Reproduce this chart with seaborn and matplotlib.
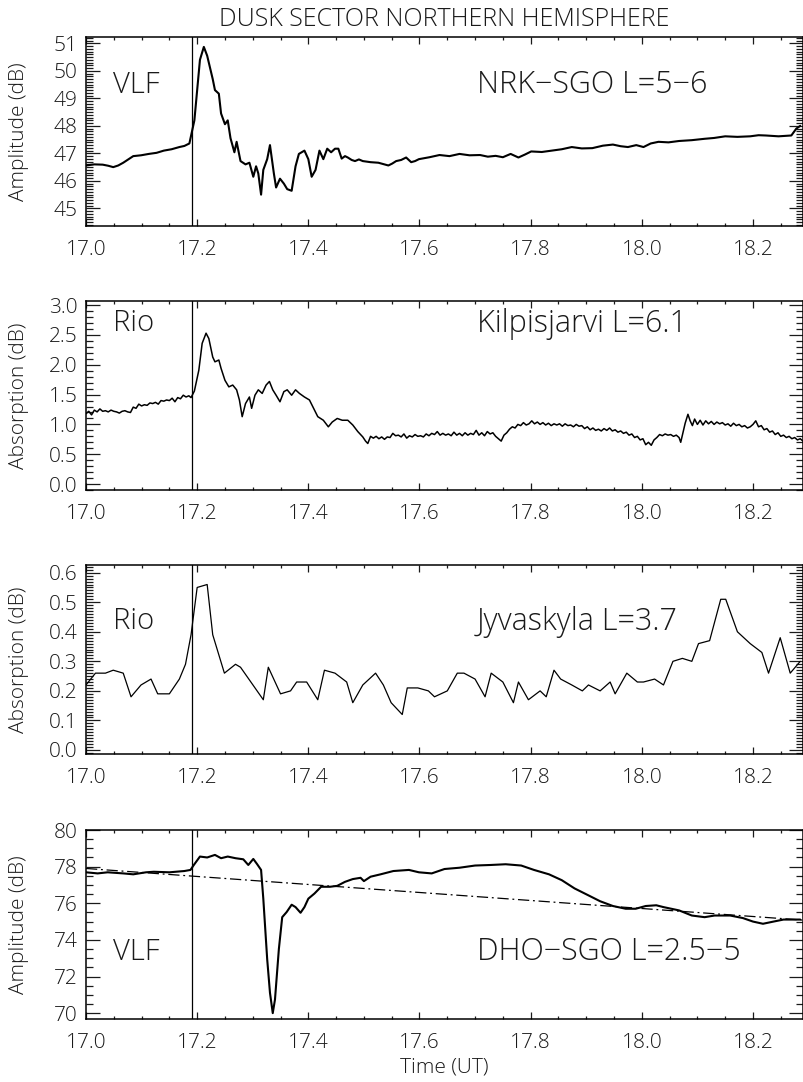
import numpy as np
import pandas as pd
import matplotlib
matplotlib.use("Agg")
import matplotlib.pyplot as plt
import seaborn as sns
from matplotlib.ticker import MultipleLocator, FormatStrFormatter

# VLF amplitude NRK-SGO (dB)
nrk_t = [17.000, 17.015, 17.030, 17.040, 17.049, 17.058, 17.067, 17.076, 17.085, 17.099,
         17.113, 17.127, 17.140, 17.154, 17.168, 17.177, 17.186, 17.195,
         17.205, 17.212, 17.218, 17.228, 17.232, 17.239, 17.243, 17.250, 17.255, 17.260,
         17.267, 17.271, 17.278, 17.287, 17.294, 17.301, 17.306, 17.310, 17.315, 17.319,
         17.326, 17.331, 17.338, 17.342, 17.349, 17.356, 17.362, 17.370, 17.377, 17.383,
         17.393, 17.400, 17.406, 17.413, 17.420, 17.427, 17.434, 17.441, 17.448, 17.454,
         17.460, 17.466, 17.471, 17.478, 17.484, 17.491, 17.498, 17.512, 17.526, 17.535,
         17.544, 17.551, 17.558, 17.567, 17.576, 17.585, 17.592, 17.599, 17.618, 17.636,
         17.654, 17.672, 17.690, 17.709, 17.723, 17.737, 17.750, 17.764, 17.778, 17.790,
         17.801, 17.820, 17.838, 17.856, 17.874, 17.892, 17.911, 17.930, 17.948, 17.962,
         17.975, 17.990, 18.003, 18.016, 18.030, 18.048, 18.067, 18.090, 18.113, 18.130,
         18.150, 18.172, 18.195, 18.210, 18.223, 18.246, 18.269, 18.278, 18.285]
nrk_db = [46.56, 46.60, 46.59, 46.55, 46.50, 46.56, 46.66, 46.78, 46.90, 46.93,
          46.98, 47.02, 47.10, 47.15, 47.23, 47.27, 47.36, 48.20,
          50.40, 50.87, 50.55, 49.70, 49.30, 49.17, 48.45, 48.06, 48.20, 47.55,
          47.04, 47.42, 46.72, 46.60, 46.66, 46.15, 46.53, 46.27, 45.50, 46.40,
          46.79, 47.30, 46.27, 45.76, 46.08, 45.90, 45.70, 45.64, 46.53, 46.98,
          47.10, 46.79, 46.15, 46.40, 47.10, 46.79, 47.17, 47.04, 47.17, 47.17,
          46.81, 46.90, 46.85, 46.76, 46.72, 46.78, 46.72, 46.68, 46.66, 46.61,
          46.56, 46.63, 46.72, 46.76, 46.85, 46.68, 46.72, 46.79, 46.86, 46.94,
          46.90, 46.98, 46.93, 46.94, 46.88, 46.91, 46.86, 46.98, 46.85, 46.96,
          47.07, 47.05, 47.10, 47.15, 47.23, 47.18, 47.19, 47.28, 47.32, 47.26,
          47.23, 47.30, 47.23, 47.36, 47.42, 47.40, 47.45, 47.48, 47.53, 47.56,
          47.62, 47.60, 47.62, 47.66, 47.65, 47.62, 47.65, 47.90, 48.00]

# Riometer absorption Kilpisjarvi (dB)
kil_t = [17.000, 17.005, 17.010, 17.015, 17.020, 17.025, 17.030, 17.035, 17.040, 17.045,
         17.050, 17.055, 17.060, 17.065, 17.070, 17.075, 17.080, 17.085, 17.090, 17.095,
         17.100, 17.105, 17.110, 17.115, 17.120, 17.125, 17.130, 17.135, 17.140, 17.145,
         17.150, 17.155, 17.160, 17.165, 17.170, 17.175, 17.180, 17.185, 17.189, 17.195,
         17.203, 17.209, 17.216, 17.221, 17.228, 17.232, 17.239, 17.243, 17.250, 17.257,
         17.264, 17.271, 17.276, 17.281, 17.287, 17.294, 17.298, 17.304, 17.310, 17.317,
         17.324, 17.330, 17.336, 17.342, 17.349, 17.356, 17.362, 17.370, 17.377, 17.384,
         17.393, 17.402, 17.411, 17.417, 17.427, 17.436, 17.443, 17.452, 17.461, 17.471,
         17.480, 17.489, 17.498, 17.503, 17.507, 17.512, 17.517, 17.522, 17.527, 17.532,
         17.537, 17.542, 17.547, 17.552, 17.557, 17.562, 17.567, 17.572, 17.577, 17.582,
         17.587, 17.592, 17.597, 17.602, 17.607, 17.612, 17.617, 17.622, 17.627, 17.632,
         17.637, 17.642, 17.647, 17.652, 17.657, 17.662, 17.667, 17.672, 17.677, 17.682,
         17.687, 17.692, 17.697, 17.702, 17.707, 17.712, 17.717, 17.722, 17.727, 17.732,
         17.737, 17.742, 17.747, 17.752, 17.757, 17.762, 17.767, 17.772, 17.777, 17.782,
         17.787, 17.792, 17.797, 17.802, 17.807, 17.812, 17.817, 17.822, 17.827, 17.832,
         17.837, 17.842, 17.847, 17.852, 17.857, 17.862, 17.867, 17.872, 17.877, 17.882,
         17.887, 17.892, 17.897, 17.902, 17.907, 17.912, 17.917, 17.922, 17.927, 17.932,
         17.937, 17.942, 17.947, 17.952, 17.957, 17.962, 17.967, 17.972, 17.977, 17.982,
         17.987, 17.992, 17.997, 18.002, 18.007, 18.012, 18.017, 18.022, 18.027, 18.032,
         18.037, 18.042, 18.047, 18.052, 18.057, 18.062, 18.067, 18.070, 18.074, 18.078,
         18.083, 18.087, 18.091, 18.095, 18.100, 18.105, 18.110, 18.115, 18.120, 18.125,
         18.130, 18.135, 18.140, 18.145, 18.150, 18.155, 18.160, 18.165, 18.170, 18.175,
         18.180, 18.185, 18.190, 18.195, 18.200, 18.205, 18.210, 18.215, 18.220, 18.225,
         18.230, 18.235, 18.240, 18.245, 18.250, 18.255, 18.260, 18.265, 18.270, 18.275,
         18.280, 18.285, 18.290]
kil_db = [1.18, 1.22, 1.16, 1.24, 1.21, 1.26, 1.22, 1.23, 1.21, 1.24,
          1.22, 1.21, 1.19, 1.22, 1.23, 1.21, 1.20, 1.29, 1.27, 1.34,
          1.31, 1.33, 1.32, 1.36, 1.35, 1.37, 1.34, 1.40, 1.39, 1.41,
          1.40, 1.44, 1.38, 1.45, 1.43, 1.49, 1.46, 1.48, 1.45, 1.56,
          1.91, 2.36, 2.53, 2.44, 2.13, 2.05, 2.08, 1.94, 1.74, 1.63,
          1.66, 1.58, 1.41, 1.13, 1.35, 1.46, 1.27, 1.49, 1.58, 1.52,
          1.66, 1.72, 1.58, 1.49, 1.38, 1.55, 1.58, 1.49, 1.58, 1.52,
          1.46, 1.41, 1.24, 1.13, 1.07, 0.96, 1.04, 1.10, 1.07, 1.07,
          0.99, 0.88, 0.79, 0.72, 0.68, 0.80, 0.77, 0.80, 0.76, 0.79,
          0.75, 0.79, 0.78, 0.85, 0.81, 0.82, 0.79, 0.84, 0.77, 0.81,
          0.79, 0.83, 0.80, 0.81, 0.79, 0.84, 0.81, 0.85, 0.83, 0.88,
          0.82, 0.85, 0.82, 0.84, 0.81, 0.87, 0.82, 0.85, 0.81, 0.86,
          0.82, 0.85, 0.83, 0.90, 0.82, 0.86, 0.81, 0.88, 0.84, 0.86,
          0.80, 0.76, 0.72, 0.82, 0.86, 0.92, 0.96, 0.94, 1.00, 0.98,
          1.03, 0.99, 1.01, 1.06, 1.01, 1.04, 1.00, 1.03, 0.99, 1.02,
          0.98, 1.01, 0.99, 1.01, 0.97, 1.01, 0.98, 0.99, 0.96, 1.00,
          0.97, 0.98, 0.93, 0.96, 0.91, 0.94, 0.90, 0.92, 0.89, 0.93,
          0.90, 0.94, 0.89, 0.91, 0.87, 0.89, 0.85, 0.87, 0.82, 0.84,
          0.78, 0.80, 0.74, 0.76, 0.66, 0.70, 0.65, 0.74, 0.78, 0.83,
          0.81, 0.84, 0.82, 0.83, 0.80, 0.82, 0.78, 0.70, 0.86, 1.02,
          1.17, 1.06, 0.98, 1.09, 1.00, 1.07, 0.99, 1.06, 1.01, 1.05,
          1.00, 1.04, 1.01, 1.03, 0.99, 1.01, 0.97, 1.02, 0.98, 1.00,
          0.96, 0.98, 0.94, 0.96, 1.00, 1.06, 0.96, 0.98, 0.91, 0.93,
          0.87, 0.89, 0.83, 0.86, 0.80, 0.82, 0.78, 0.80, 0.76, 0.78,
          0.74, 0.76, 0.72]

# Riometer absorption Jyvaskyla (dB)
jyv_t = [17.000, 17.017, 17.035, 17.049, 17.067, 17.081, 17.099, 17.117, 17.129, 17.150,
         17.168, 17.179, 17.189, 17.200, 17.218, 17.228, 17.249, 17.269, 17.278, 17.319,
         17.328, 17.350, 17.368, 17.379, 17.397, 17.417, 17.429, 17.448, 17.469, 17.480,
         17.498, 17.521, 17.535, 17.549, 17.569, 17.578, 17.597, 17.616, 17.627, 17.650,
         17.668, 17.680, 17.700, 17.718, 17.729, 17.750, 17.769, 17.778, 17.796, 17.817,
         17.828, 17.842, 17.854, 17.874, 17.893, 17.904, 17.925, 17.943, 17.952, 17.973,
         17.992, 18.003, 18.023, 18.039, 18.056, 18.073, 18.090, 18.102, 18.122, 18.142,
         18.151, 18.172, 18.195, 18.216, 18.228, 18.249, 18.267, 18.285]
jyv_db = [0.22, 0.26, 0.26, 0.27, 0.26, 0.18, 0.22, 0.24, 0.19, 0.19,
          0.24, 0.29, 0.39, 0.55, 0.56, 0.39, 0.26, 0.29, 0.28, 0.17,
          0.28, 0.19, 0.20, 0.23, 0.23, 0.17, 0.27, 0.26, 0.23, 0.16,
          0.22, 0.26, 0.22, 0.16, 0.12, 0.21, 0.21, 0.20, 0.18, 0.20,
          0.26, 0.26, 0.24, 0.18, 0.26, 0.23, 0.16, 0.23, 0.17, 0.20,
          0.18, 0.27, 0.24, 0.22, 0.20, 0.22, 0.20, 0.23, 0.19, 0.26,
          0.23, 0.23, 0.24, 0.22, 0.30, 0.31, 0.30, 0.36, 0.37, 0.51,
          0.51, 0.40, 0.36, 0.33, 0.26, 0.38, 0.26, 0.30]

# VLF amplitude DHO-SGO (dB)
dho_t = [17.000, 17.021, 17.039, 17.067, 17.085, 17.108, 17.122, 17.150, 17.177, 17.188,
         17.194, 17.205, 17.218, 17.232, 17.243, 17.255, 17.269, 17.283, 17.292, 17.301,
         17.308, 17.315, 17.319, 17.326, 17.331, 17.336, 17.340, 17.347, 17.353, 17.361,
         17.370, 17.377, 17.386, 17.393, 17.400, 17.411, 17.423, 17.439, 17.452, 17.466,
         17.480, 17.494, 17.500, 17.512, 17.530, 17.553, 17.581, 17.599, 17.622, 17.645,
         17.672, 17.700, 17.728, 17.755, 17.783, 17.806, 17.833, 17.856, 17.879, 17.906,
         17.925, 17.948, 17.971, 17.989, 18.007, 18.026, 18.039, 18.067, 18.090, 18.113,
         18.131, 18.159, 18.182, 18.200, 18.218, 18.237, 18.255, 18.285]
dho_db = [77.69, 77.63, 77.69, 77.63, 77.58, 77.69, 77.72, 77.69, 77.76, 77.82,
          78.09, 78.55, 78.50, 78.64, 78.46, 78.55, 78.46, 78.40, 78.09, 78.42,
          78.13, 77.82, 76.25, 72.94, 71.11, 70.00, 70.74, 73.50, 75.24, 75.52,
          75.92, 75.79, 75.48, 75.79, 76.25, 76.53, 76.90, 76.90, 76.95, 77.17,
          77.32, 77.39, 77.21, 77.45, 77.58, 77.76, 77.82, 77.69, 77.63, 77.87,
          77.94, 78.06, 78.09, 78.13, 78.06, 77.82, 77.58, 77.26, 76.81, 76.40,
          76.11, 75.85, 75.70, 75.70, 75.85, 75.89, 75.79, 75.61, 75.33, 75.24,
          75.33, 75.33, 75.19, 75.00, 74.88, 75.00, 75.11, 75.11]
# quiet-day trend line (dash-dot)
trend_t = [17.00, 18.29]
trend_db = [77.90, 75.08]

onset = 17.19
title = "DUSK SECTOR NORTHERN HEMISPHERE"

sns.set_theme(style="ticks")
plt.rcParams['font.family'] = ['Open Sans', 'DejaVu Sans']
plt.rcParams['font.weight'] = 'light'
plt.rcParams['axes.labelweight'] = 'light'
plt.rcParams['text.color'] = '#1a1a1a'
plt.rcParams['axes.labelcolor'] = '#1a1a1a'
plt.rcParams['xtick.color'] = '#1a1a1a'
plt.rcParams['ytick.color'] = '#1a1a1a'

fig = plt.figure(figsize=(8.04, 10.82), dpi=100)

panels = [
    dict(t=nrk_t, v=nrk_db, ylim=(44.36, 51.23), major=1, minor=0.1, fmt='%d',
         ylabel='Amplitude (dB)', left='VLF', right='NRK\u2212SGO L=5\u22126', ty=0.745, lw=1.5),
    dict(t=kil_t, v=kil_db, ylim=(-0.10, 3.07), major=0.5, minor=0.1, fmt='%.1f',
         ylabel='Absorption (dB)', left='Rio', right='Kilpisjarvi L=6.1', ty=0.88, lw=1.1),
    dict(t=jyv_t, v=jyv_db, ylim=(-0.0136, 0.626), major=0.1, minor=0.01, fmt='%.1f',
         ylabel='Absorption (dB)', left='Rio', right='Jyvaskyla L=3.7', ty=0.70, lw=0.9),
    dict(t=dho_t, v=dho_db, ylim=(69.68, 80.0), major=2, minor=0.5, fmt='%d',
         ylabel='Amplitude (dB)', left='VLF', right='DHO\u2212SGO L=2.5\u22125', ty=0.354, lw=1.5),
]

bottoms_px = [226, 490, 754, 1019]
height_px = 189
left_px, right_px = 86, 803

axes = []
for i, p in enumerate(panels):
    ax = fig.add_axes([left_px / 804, 1 - bottoms_px[i] / 1082,
                       (right_px - left_px) / 804, height_px / 1082])
    df = pd.DataFrame({'t': p['t'], 'v': p['v']})
    sns.lineplot(data=df, x='t', y='v', ax=ax, color='black', lw=p['lw'],
                 estimator=None, sort=False)
    if i == 3:
        tr = pd.DataFrame({'t': trend_t, 'v': trend_db})
        sns.lineplot(data=tr, x='t', y='v', ax=ax, color='black', lw=0.9,
                     estimator=None, sort=False)
        ax.lines[-1].set_dashes([9, 3, 1.5, 3])
    ax.axvline(onset, color='black', lw=0.9)
    ax.set_xlim(17.0, 18.29)
    ax.set_ylim(*p['ylim'])
    ax.xaxis.set_major_locator(MultipleLocator(0.2))
    ax.xaxis.set_minor_locator(MultipleLocator(0.05))
    ax.xaxis.set_major_formatter(FormatStrFormatter('%.1f'))
    ax.yaxis.set_major_locator(MultipleLocator(p['major']))
    ax.yaxis.set_minor_locator(MultipleLocator(p['minor']))
    ax.yaxis.set_major_formatter(FormatStrFormatter(p['fmt']))
    ax.tick_params(axis='both', which='both', direction='in', top=True, right=True,
                   labelsize=15, width=0.9)
    ax.tick_params(axis='y', which='major', length=10, pad=6)
    ax.tick_params(axis='y', which='minor', length=5)
    ax.tick_params(axis='x', which='major', length=5, pad=10)
    ax.tick_params(axis='x', which='minor', length=2.5)
    for s in ax.spines.values():
        s.set_linewidth(1.1)
        s.set_color('black')
    ax.set_xlabel('')
    ax.set_ylabel(p['ylabel'], fontsize=15)
    ax.yaxis.set_label_coords(-0.080, 0.5)
    ax.text(0.038, p['ty'], p['left'], transform=ax.transAxes, fontsize=21,
            va='center', ha='left')
    ax.text(0.545, p['ty'], p['right'], transform=ax.transAxes, fontsize=22,
            va='center', ha='left')
    axes.append(ax)

axes[-1].set_xlabel('Time (UT)', fontsize=15, labelpad=3)
fig.text((left_px + right_px) / 2 / 804, 1 - 20 / 1082, title, fontsize=18,
         ha='center', va='center')

fig.savefig('out.png', dpi=100)
